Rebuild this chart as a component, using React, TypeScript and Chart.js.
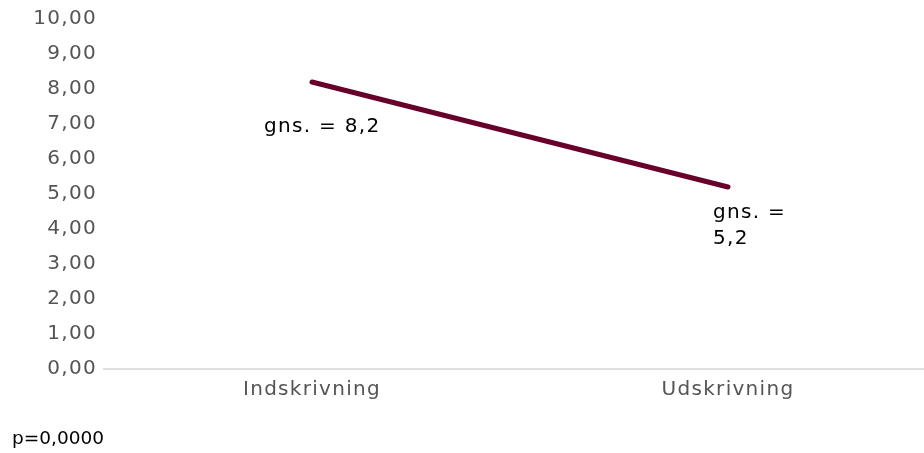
import React, { useEffect, useRef } from "react";
import { Chart, registerables } from "chart.js";

Chart.register(...registerables);

const categories = ["Indskrivning", "Udskrivning"];
const means = [8.2, 5.2];
const meanLabelLines = [["gns. = 8,2"], ["gns. =", "5,2"]];
const yMin = 0;
const yMax = 10;
const yStep = 1;
const pValueText = "p=0,0000";

const FONT = '"DejaVu Sans", Verdana, sans-serif';
const SPACING = "1.3px";

export default function App() {
  const canvasRef = useRef<HTMLCanvasElement | null>(null);

  useEffect(() => {
    const canvas = canvasRef.current;
    if (!canvas) return;

    const spacingPlugin = {
      id: "spacing",
      beforeDraw(chart: any) {
        chart.ctx.letterSpacing = SPACING;
      },
    };

    const labelPlugin = {
      id: "meanLabels",
      afterDatasetsDraw(chart: any) {
        const meta = chart.getDatasetMeta(0);
        const ctx = chart.ctx;
        ctx.save();
        ctx.letterSpacing = SPACING;
        ctx.font = `20px ${FONT}`;
        ctx.fillStyle = "#000000";
        ctx.textAlign = "left";
        ctx.textBaseline = "middle";
        const offsets = [
          { dx: -48, dy: 45 },
          { dx: -15, dy: 26 },
        ];
        meta.data.forEach((pt: any, i: number) => {
          const lines = meanLabelLines[i] || [];
          const o = offsets[i];
          lines.forEach((line, j) => {
            ctx.fillText(line, pt.x + o.dx, pt.y + o.dy + j * 26);
          });
        });
        ctx.restore();
      },
    };

    const chart = new Chart(canvas, {
      type: "line",
      data: {
        labels: categories,
        datasets: [
          {
            data: means,
            borderColor: "#68002c",
            borderWidth: 5,
            borderCapStyle: "round",
            pointRadius: 0,
            pointHoverRadius: 0,
            fill: false,
            tension: 0,
          },
        ],
      },
      options: {
        responsive: false,
        animation: false,
        devicePixelRatio: 1,
        layout: { padding: { top: 17, left: 0, right: 0, bottom: 44 } },
        plugins: {
          legend: { display: false },
          tooltip: { enabled: false },
          title: { display: false },
        },
        scales: {
          x: {
            offset: true,
            grid: { display: false, drawTicks: false },
            border: { display: true, color: "#e0e0e0", width: 2 },
            ticks: {
              color: "#555555",
              font: { family: FONT, size: 20 },
              padding: 9,
              maxRotation: 0,
            },
            afterFit(scale: any) {
              scale.height = 40;
            },
          },
          y: {
            min: yMin,
            max: yMax,
            grid: { display: false, drawTicks: false },
            border: { display: false },
            ticks: {
              stepSize: yStep,
              color: "#555555",
              font: { family: FONT, size: 20 },
              padding: 7,
              callback: (v: any) => Number(v).toFixed(2).replace(".", ","),
            },
            afterFit(scale: any) {
              scale.width = 104;
            },
          },
        },
      },
      plugins: [spacingPlugin, labelPlugin],
    } as any);

    return () => chart.destroy();
  }, []);

  return (
    <div
      style={{
        position: "fixed",
        left: 0,
        top: 0,
        width: 924,
        height: 453,
        overflow: "hidden",
        background: "#ffffff",
      }}
    >
      <canvas
        ref={canvasRef}
        width={936}
        height={453}
        style={{ display: "block", width: 936, height: 453 }}
      />
      <div
        style={{
          position: "absolute",
          left: 12,
          top: 427,
          fontFamily: FONT,
          fontSize: 18.5,
          lineHeight: "22px",
          color: "#000000",
        }}
      >
        {pValueText}
      </div>
    </div>
  );
}
